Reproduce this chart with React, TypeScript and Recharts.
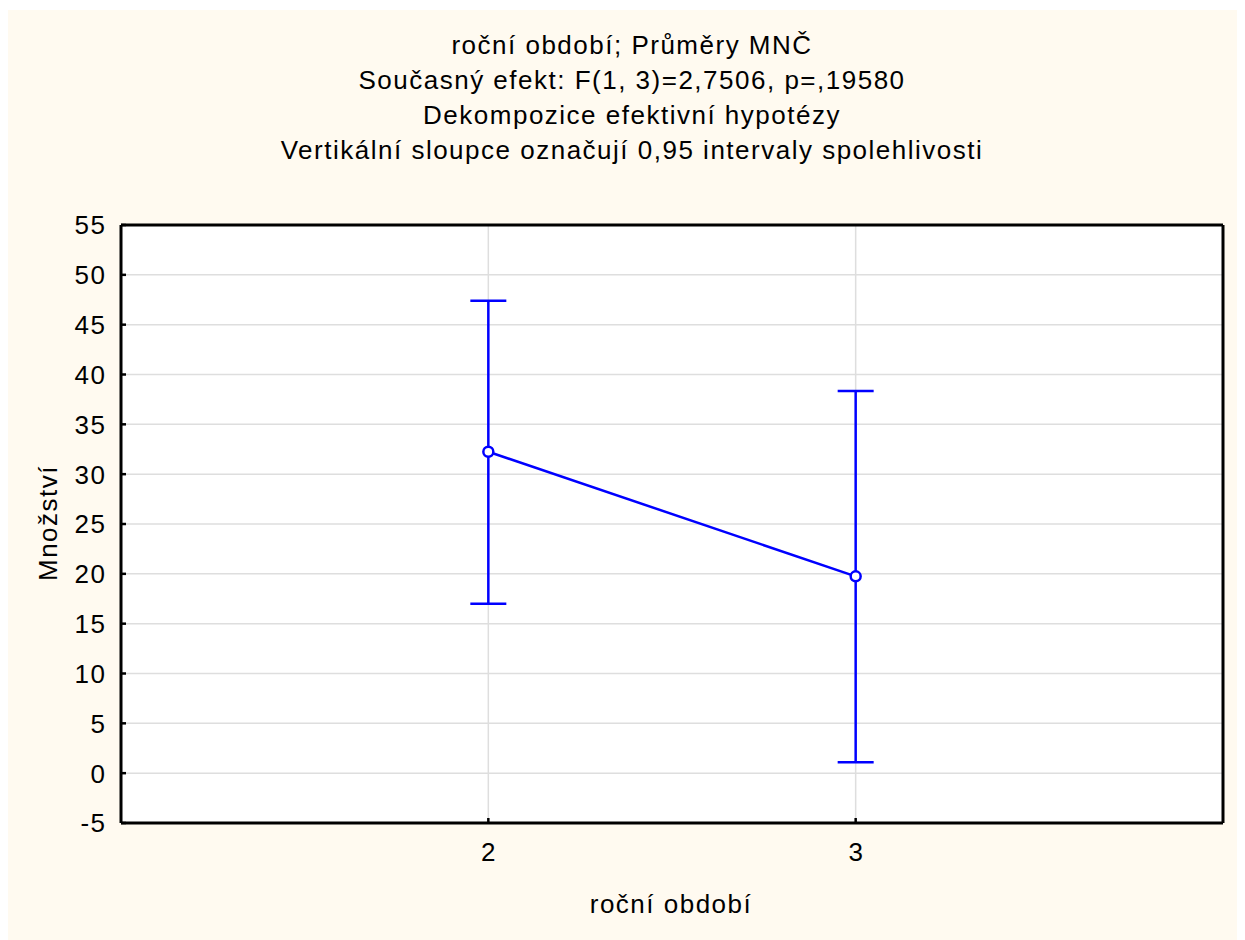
import React from 'react';
import {
  ComposedChart, Line, ErrorBar, XAxis, YAxis, CartesianGrid,
} from 'recharts';

// roční období (x categories)
const seasons = [2, 3];
// průměry MNČ + 0,95 intervaly spolehlivosti
const means = [32.25, 19.75];
const lowerCI = [17.0, 1.1];
const upperCI = [47.4, 38.35];

const yTicks = [-5, 0, 5, 10, 15, 20, 25, 30, 35, 40, 45, 50, 55];
const xTicks = [2, 3];

const titleLines = [
  'roční období; Průměry MNČ',
  'Současný efekt: F(1, 3)=2,7506, p=,19580',
  'Dekompozice efektivní hypotézy',
  'Vertikální sloupce označují 0,95 intervaly spolehlivosti',
];

const data = seasons.map((s, i) => ({
  x: s,
  mean: means[i],
  err: [means[i] - lowerCI[i], upperCI[i] - means[i]],
}));

const FONT = '"Liberation Sans", Arial, sans-serif';
const FS = 26;
const LS = 1.5;
const BLUE = '#0000ff';

const LeftTick = (props: any) => {
  const { x, y, payload } = props;
  return (
    <g>
      <line x1={x} y1={y} x2={x + 5} y2={y} stroke="#000" strokeWidth={2.5} />
      <text x={x - 14.5} y={y} dy="0.36em" textAnchor="end" fontSize={FS} letterSpacing={LS} fontFamily={FONT} fill="#000">
        {payload.value}
      </text>
    </g>
  );
};

const RightTick = (props: any) => {
  const { x, y } = props;
  return <line x1={x} y1={y} x2={x - 5} y2={y} stroke="#000" strokeWidth={2.5} />;
};

const BottomTick = (props: any) => {
  const { x, y, payload } = props;
  return (
    <g>
      <line x1={x} y1={y} x2={x} y2={y - 5} stroke="#000" strokeWidth={2.5} />
      <text x={x + 0.75} y={y + 29} dy="0.36em" textAnchor="middle" fontSize={FS} letterSpacing={LS} fontFamily={FONT} fill="#000">
        {payload.value}
      </text>
    </g>
  );
};

const textStyle: React.CSSProperties = {
  position: 'absolute',
  fontFamily: FONT,
  fontSize: FS,
  letterSpacing: LS,
  color: '#000',
  whiteSpace: 'nowrap',
  lineHeight: '30px',
};

export default function App() {
  return (
    <div style={{ position: 'relative', width: 1237, height: 930, marginTop: 2, background: '#fffaf0' }}>
      {titleLines.map((t, i) => (
        <div key={i} style={{ ...textStyle, left: 624, top: 20 + i * 35, transform: 'translateX(-50%)' }}>
          {t}
        </div>
      ))}
      <div style={{ ...textStyle, left: 663, top: 879, transform: 'translateX(-50%)' }}>roční období</div>
      <div style={{ ...textStyle, left: 40, top: 513, transform: 'translate(-50%, -50%) rotate(-90deg)' }}>Množství</div>
      <ComposedChart
        width={1237}
        height={930}
        data={data}
        margin={{ top: 214, right: 21, left: 33, bottom: 57 }}
        style={{ position: 'absolute', left: 0, top: 0 }}
      >
        <CartesianGrid fill="#ffffff" stroke="#dedede" strokeWidth={1.5} />
        <XAxis
          dataKey="x"
          type="number"
          domain={[1, 4]}
          ticks={xTicks}
          height={60}
          tickSize={0}
          tickMargin={0}
          tickLine={false}
          axisLine={{ stroke: '#000', strokeWidth: 3 }}
          tick={<BottomTick />}
        />
        <XAxis
          xAxisId="t"
          orientation="top"
          type="number"
          domain={[1, 4]}
          height={1}
          tick={false}
          tickLine={false}
          axisLine={{ stroke: '#000', strokeWidth: 3 }}
        />
        <YAxis
          type="number"
          domain={[-5, 55]}
          ticks={yTicks}
          width={80}
          tickSize={0}
          tickMargin={0}
          tickLine={false}
          axisLine={{ stroke: '#000', strokeWidth: 3 }}
          tick={<LeftTick />}
        />
        <YAxis
          yAxisId="r"
          orientation="right"
          type="number"
          domain={[-5, 55]}
          ticks={yTicks}
          width={1}
          tickSize={0}
          tickMargin={0}
          tickLine={false}
          axisLine={{ stroke: '#000', strokeWidth: 3 }}
          tick={<RightTick />}
        />
        <Line
          dataKey="mean"
          stroke={BLUE}
          strokeWidth={2.5}
          isAnimationActive={false}
          dot={{ r: 5, stroke: BLUE, strokeWidth: 2.5, fill: '#ffffff' }}
          activeDot={false}
        >
          <ErrorBar dataKey="err" direction="y" width={18} stroke={BLUE} strokeWidth={2.5} isAnimationActive={false} />
        </Line>
      </ComposedChart>
    </div>
  );
}
